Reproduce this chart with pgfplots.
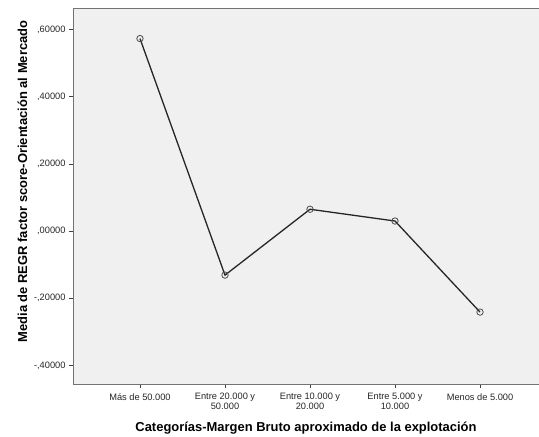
\documentclass[border=0pt]{standalone}
\usepackage{fontspec}
\setmainfont{Liberation Sans}
\usepackage{pgfplots}
\pgfplotsset{compat=1.18}
\begin{document}
\begin{tikzpicture}
\begin{axis}[
    scale only axis,
    width=466bp, height=375bp,
    xmin=-0.788, xmax=4.694,
    ymin=-0.455, ymax=0.661,
    axis background/.style={fill=black!6},
    axis line style={draw=none},
    tick align=outside,
    major tick length=4bp,
    xtick pos=bottom, ytick pos=left,
    tick style={black!75, line width=0.8bp},
    xtick={0,1,2,3,4},
    xticklabels={M\'as de 50.000, {Entre 20.000 y\\50.000}, {Entre 10.000 y\\20.000}, {Entre 5.000 y\\10.000}, Menos de 5.000},
    xticklabel style={align=center, font=\fontsize{9.3}{9.5}\selectfont, text=black!85, yshift=-2bp},
    ytick={-0.4,-0.2,0,0.2,0.4,0.6},
    yticklabels={{-,40000},{-,20000},{,00000},{,20000},{,40000},{,60000}},
    yticklabel style={font=\fontsize{9.3}{9.5}\selectfont, text=black!85},
    xlabel={Categorías-Margen Bruto aproximado de la explotación},
    xlabel style={font=\bfseries\fontsize{13}{14}\selectfont, yshift=-6bp},
    ylabel={Media de REGR factor score-Orientación al Mercado},
    ylabel style={font=\bfseries\fontsize{13}{14}\selectfont, at={(ticklabel cs:0.54)}},
]
\draw[black!55, line width=1bp] (rel axis cs:1,1) -- (rel axis cs:0,1) -- (rel axis cs:0,0) -- (rel axis cs:1,0);
% media por categoria
\addplot[black!85, line width=1.3bp, mark=o, mark size=3.2bp,
    mark options={black!70, line width=0.8bp}] coordinates {
    (0, 0.573)
    (1, -0.131)
    (2, 0.065)
    (3, 0.030)
    (4, -0.241)
};
\end{axis}
\pgfresetboundingbox
\path ([shift={(-73bp,-53bp)}]current axis.south west) rectangle ([shift={(0bp,9bp)}]current axis.north east);
\end{tikzpicture}
\end{document}
